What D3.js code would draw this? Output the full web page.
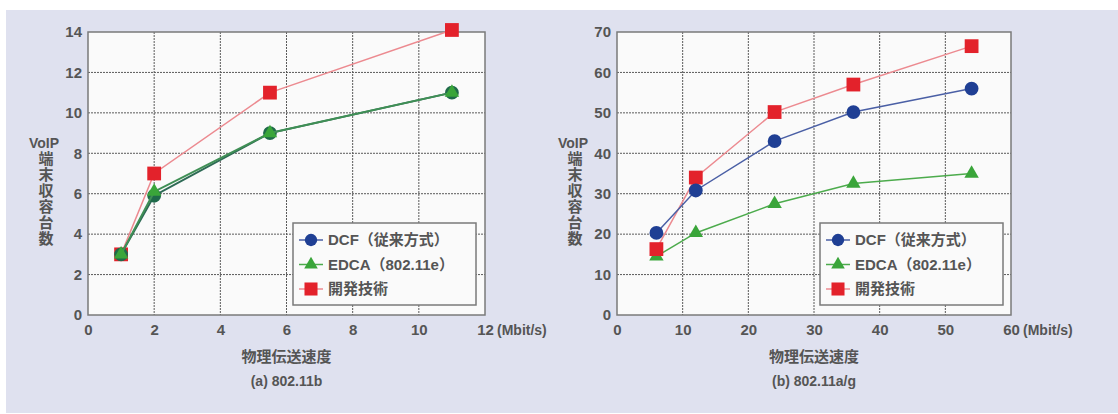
<!DOCTYPE html>
<html>
<head>
<meta charset="utf-8">
<script src="https://cdn.jsdelivr.net/npm/d3@7"></script>
<style>
  body { margin: 0; background: #ffffff; }
  text { font-family: "Liberation Sans", "Noto Sans CJK JP", sans-serif; font-weight: bold; }
</style>
</head>
<body>
<script>
var w = 1118;
var h = 414;

// panel (a) 802.11b
var rateB = [1, 2, 5.5, 11];
var dcfB = [3, 5.9, 9, 11];
var edcaB = [3, 6.1, 9, 11];
var devB = [3, 7, 11, 14.1];
var xTicksB = [0, 2, 4, 6, 8, 10, 12];
var yTicksB = [0, 2, 4, 6, 8, 10, 12, 14];

// panel (b) 802.11a/g
var rateAG = [6, 12, 24, 36, 54];
var dcfAG = [20.3, 30.8, 43, 50.2, 56];
var edcaAG = [14.5, 20.3, 27.5, 32.5, 35];
var devAG = [16.3, 34, 50.2, 57, 66.5];
var xTicksAG = [0, 10, 20, 30, 40, 50, 60];
var yTicksAG = [0, 10, 20, 30, 40, 50, 60, 70];

var seriesNames = ["DCF（従来方式）", "EDCA（802.11e）", "開発技術"];
var colors = { dcf: "#1f3f94", edca: "#3aa53a", dev: "#e3222b" };
var lineColors = { dcf: "#4a5fa5", edca: "#4cab4c", dev: "#ec8a90" };
var textColor = "#555";

var svg = d3.select("body").append("svg").attr("width", w).attr("height", h);

svg.append("rect")
  .attr("x", 6).attr("y", 10)
  .attr("width", w - 6).attr("height", h - 11)
  .attr("fill", "#dfe1ef");

function drawPanel(p) {
  var x = d3.scaleLinear().domain(p.xDomain).range([p.left, p.right]);
  var y = d3.scaleLinear().domain(p.yDomain).range([315, 32]);
  var g = svg.append("g");

  g.append("rect")
    .attr("x", p.left).attr("y", 32)
    .attr("width", p.right - p.left).attr("height", 283)
    .attr("fill", "#fafafa");

  // grid
  g.selectAll(".gx").data(p.xTicks.slice(1, -1)).enter().append("line")
    .attr("x1", function (d) { return x(d); })
    .attr("x2", function (d) { return x(d); })
    .attr("y1", 32).attr("y2", 315)
    .attr("stroke", "#5a5a5a").attr("stroke-width", 1)
    .attr("stroke-dasharray", "2,1");
  g.selectAll(".gy").data(p.yTicks.slice(1, -1)).enter().append("line")
    .attr("y1", function (d) { return y(d); })
    .attr("y2", function (d) { return y(d); })
    .attr("x1", p.left).attr("x2", p.right)
    .attr("stroke", "#5a5a5a").attr("stroke-width", 1)
    .attr("stroke-dasharray", "2,1");

  g.append("rect")
    .attr("x", p.left).attr("y", 32)
    .attr("width", p.right - p.left).attr("height", 283)
    .attr("fill", "none").attr("stroke", "#7a7a7a").attr("stroke-width", 1.5);

  // axes
  var xAxis = d3.axisBottom(x).tickValues(p.xTicks).tickSize(0).tickPadding(9);
  var yAxis = d3.axisLeft(y).tickValues(p.yTicks).tickSize(0).tickPadding(6);
  var gx = g.append("g").attr("transform", "translate(0,315)").call(xAxis);
  var gy = g.append("g").attr("transform", "translate(" + p.left + ",0)").call(yAxis);
  [gx, gy].forEach(function (a) {
    a.select(".domain").remove();
    a.selectAll("text")
      .attr("font-size", 15).attr("fill", textColor)
      .attr("font-weight", "bold")
      .attr("font-family", "Liberation Sans, sans-serif");
  });

  g.append("text")
    .attr("x", p.right + 12).attr("y", 330)
    .attr("dy", "0.35em")
    .attr("font-size", 14).attr("fill", textColor)
    .text("(Mbit/s)");

  var mid = (p.left + p.right) / 2;
  g.append("text")
    .attr("x", mid).attr("y", 362)
    .attr("text-anchor", "middle")
    .attr("font-size", 15).attr("fill", textColor)
    .attr("font-family", "Noto Sans CJK JP")
    .text("物理伝送速度");

  g.append("text")
    .attr("x", mid).attr("y", 386)
    .attr("text-anchor", "middle")
    .attr("font-size", 14).attr("fill", textColor)
    .text(p.caption);

  // y title
  var yl = p.left - 44;
  g.append("text")
    .attr("x", yl).attr("y", 148)
    .attr("text-anchor", "middle")
    .attr("font-size", 14).attr("fill", textColor)
    .text("VoIP");
  g.selectAll(".ych").data("端末収容台数".split("")).enter().append("text")
    .attr("x", yl + 2)
    .attr("y", function (d, i) { return 164 + i * 16; })
    .attr("text-anchor", "middle")
    .attr("font-size", 15).attr("fill", textColor)
    .attr("font-family", "Noto Sans CJK JP")
    .text(function (d) { return d; });

  var line = d3.line()
    .x(function (d) { return x(d[0]); })
    .y(function (d) { return y(d[1]); });

  function pts(v) { return p.rates.map(function (r, i) { return [r, v[i]]; }); }

  p.order.forEach(function (k) {
    var data = pts(p.values[k]);
    g.append("path").datum(data)
      .attr("d", line).attr("fill", "none")
      .attr("stroke", p.strokeColors[k]).attr("stroke-width", p.lineWidth[k]);
    var sym = k === "dcf" ? d3.symbolCircle : k === "edca" ? d3.symbolTriangle : d3.symbolSquare;
    var size = k === "dcf" ? 150 : k === "edca" ? 90 : 190;
    g.selectAll(".m" + k).data(data).enter().append("path")
      .attr("transform", function (d) { return "translate(" + x(d[0]) + "," + y(d[1]) + ")"; })
      .attr("d", d3.symbol().type(sym).size(size))
      .attr("fill", p.markerFill[k]);
  });

  // legend
  var lg = g.append("g").attr("transform", "translate(" + p.legendX + ",223)");
  lg.append("rect")
    .attr("width", 183).attr("height", 82)
    .attr("fill", "#fafafa").attr("stroke", "#7a7a7a").attr("stroke-width", 1.5);
  ["dcf", "edca", "dev"].forEach(function (k, i) {
    var cy = 17 + i * 24.5;
    lg.append("line")
      .attr("x1", 6).attr("x2", 30).attr("y1", cy).attr("y2", cy)
      .attr("stroke", lineColors[k]).attr("stroke-width", 1.5);
    var sym = k === "dcf" ? d3.symbolCircle : k === "edca" ? d3.symbolTriangle : d3.symbolSquare;
    var size = k === "dcf" ? 120 : k === "edca" ? 80 : 170;
    lg.append("path")
      .attr("transform", "translate(18," + cy + ")")
      .attr("d", d3.symbol().type(sym).size(size))
      .attr("fill", colors[k]);
    lg.append("text")
      .attr("x", 35).attr("y", cy).attr("dy", "0.36em")
      .attr("font-size", 15).attr("fill", textColor)
      .attr("font-family", "Liberation Sans, Noto Sans CJK JP, sans-serif")
      .text(seriesNames[i]);
  });
}

drawPanel({
  left: 88, right: 485,
  xDomain: [0, 12], yDomain: [0, 14],
  xTicks: xTicksB, yTicks: yTicksB,
  rates: rateB,
  values: { dcf: dcfB, edca: edcaB, dev: devB },
  order: ["dev", "dcf", "edca"],
  strokeColors: { dcf: "#2e6a55", edca: "#3f8f55", dev: lineColors.dev },
  lineWidth: { dcf: 2, edca: 2, dev: 1.5 },
  markerFill: { dcf: "#1f6a4a", edca: "#3aa53a", dev: colors.dev },
  legendX: 293,
  caption: "(a)  802.11b"
});

drawPanel({
  left: 617, right: 1011,
  xDomain: [0, 60], yDomain: [0, 70],
  xTicks: xTicksAG, yTicks: yTicksAG,
  rates: rateAG,
  values: { dcf: dcfAG, edca: edcaAG, dev: devAG },
  order: ["edca", "dev", "dcf"],
  strokeColors: lineColors,
  lineWidth: { dcf: 1.5, edca: 1.5, dev: 1.5 },
  markerFill: { dcf: colors.dcf, edca: colors.edca, dev: colors.dev },
  legendX: 820,
  caption: "(b)  802.11a/g"
});
</script>
</body>
</html>
